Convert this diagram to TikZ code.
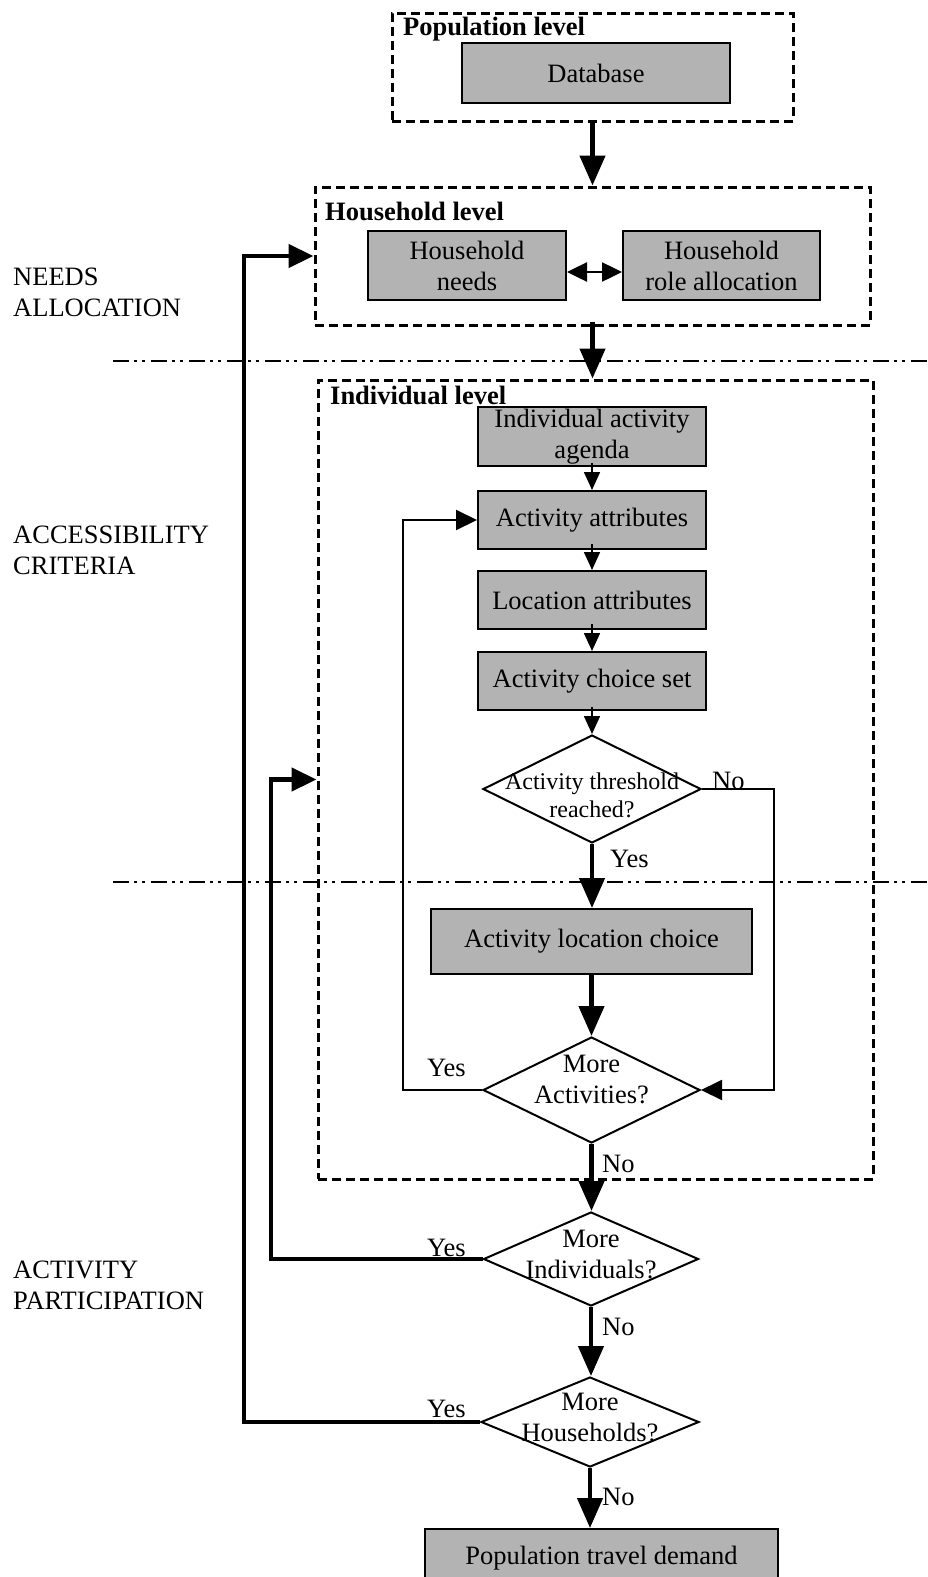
\documentclass[tikz,border=0pt]{standalone}
\usepackage{fontspec}
\setmainfont{Liberation Serif}
\usetikzlibrary{arrows.meta,shapes.geometric}
\definecolor{boxgray}{RGB}{179,179,179}
\begin{document}
\begin{tikzpicture}[x=1pt,y=-1pt,
  font=\fontsize{26.5}{31}\selectfont,
  procbox/.style={draw, line width=2pt, fill=boxgray, inner sep=0pt, align=center},
  levelbox/.style={draw, line width=3pt, dash pattern=on 9pt off 5pt, inner sep=0pt},
  decision/.style={diamond, draw, line width=2pt, inner sep=0pt},
  diamondtext/.style={align=center, inner sep=0pt},
  levelname/.style={font=\fontsize{26.5}{31}\selectfont\bfseries, anchor=base west, inner sep=0pt},
  answer/.style={anchor=base west, inner sep=0pt},
  sidenote/.style={anchor=west, align=left, inner sep=0pt},
  mainflow/.style={line width=4.5pt, -{Triangle[length=30pt,width=25pt]}},
  subflow/.style={line width=1.6pt, -{Triangle[length=18pt,width=16pt]}},
  loopthick/.style={line width=4.5pt, -{Triangle[length=25pt,width=23pt]}},
  loopthin/.style={line width=2pt, -{Triangle[length=21pt,width=20pt]}},
  pairflow/.style={line width=2.5pt, {Triangle[length=20pt,width=19pt]}-{Triangle[length=20pt,width=19pt]}},
  phase/.style={line width=2pt, dash pattern=on 16pt off 5pt on 3pt off 5pt on 3pt off 6pt}]

\useasboundingbox (0,0) rectangle (928,1577);

% phase separators
\draw[phase] (113,361) -- (928,361);
\draw[phase] (113,882) -- (928,882);

% phase names
\node[sidenote] (needs) at (13,292.75) {NEEDS\\ALLOCATION};
\node[sidenote] (access) at (13,550) {ACCESSIBILITY\\CRITERIA};
\node[sidenote] (partic) at (13,1285) {ACTIVITY\\PARTICIPATION};

% population level
\node[levelbox, minimum width=401pt, minimum height=108pt] (pop) at (592.5,67) {};
\node[levelname] (poptitle) at (403,35) {Population level};
\node[procbox, minimum width=268pt, minimum height=60pt] (db) at (596,73) {Database};

% household level
\node[levelbox, minimum width=555pt, minimum height=138pt] (hh) at (592.5,256) {};
\node[levelname] (hhtitle) at (325,220) {Household level};
\node[procbox, minimum width=198pt, minimum height=69pt] (hneeds) at (467,265.5) {Household\\needs};
\node[procbox, minimum width=197pt, minimum height=69pt] (hrole) at (721.5,265.5) {Household\\role allocation};

% individual level
\node[levelbox, minimum width=555pt, minimum height=799pt] (ind) at (595.5,779.5) {};
\node[levelname] (indtitle) at (330,404) {Individual level};
\node[procbox, minimum width=228pt, minimum height=59pt] (agenda) at (592,436.5) {Individual activity\\agenda};
\node[procbox, minimum width=228pt, minimum height=58pt] (attr) at (592,520) {Activity attributes};
\node[procbox, minimum width=228pt, minimum height=58pt] (loc) at (592,600) {Location attributes};
\node[procbox, minimum width=228pt, minimum height=58pt] (cset) at (592,681) {Activity choice set};
\node[decision, minimum width=218pt, minimum height=108pt,
      label={[diamondtext, font=\fontsize{24}{28}\selectfont, yshift=-6pt]center:Activity threshold\\reached?}] (thr) at (592,789) {};
\node[procbox, minimum width=321pt, minimum height=65pt] (lchoice) at (591.5,941.5) {Activity location choice};
\node[decision, minimum width=217pt, minimum height=106pt,
      label={[diamondtext, yshift=10.75pt]center:More\\Activities?}] (moreact) at (591.5,1090) {};

% household and population loops
\node[decision, minimum width=215pt, minimum height=94pt,
      label={[diamondtext, yshift=5pt]center:More\\Individuals?}] (moreind) at (591,1259) {};
\node[decision, minimum width=218pt, minimum height=90pt,
      label={[diamondtext, yshift=4.75pt]center:More\\Households?}] (morehh) at (590,1422) {};
\node[procbox, minimum width=353pt, minimum height=58pt] (demand) at (601.5,1558) {Population travel demand};

% main flow
\draw[mainflow] (pop.south) -- (pop.south |- hh.north);
\draw[mainflow] ([yshift=5pt]hh.south) -- (hh.south |- ind.north);
\draw[pairflow] ([yshift=-6.5pt]hneeds.east) -- ([yshift=-6.5pt]hrole.west);
\draw[subflow] ([yshift=4pt]agenda.south) -- (attr.north);
\draw[subflow] ([yshift=6pt]attr.south) -- (loc.north);
\draw[subflow] ([yshift=6pt]loc.south) -- (cset.north);
\draw[subflow] ([yshift=4pt]cset.south) -- (thr.north);
\draw[mainflow] (thr.south) -- (thr.south |- lchoice.north);
\draw[mainflow] (lchoice.south) -- (lchoice.south |- moreact.north);
\draw[mainflow] (moreact.south) -- (moreact.south |- moreind.north);
\draw[mainflow] (moreind.south) -- (moreind.south |- morehh.north);
\draw[mainflow] (morehh.south) -- (morehh.south |- demand.north);

% feedback loops
\coordinate (hhloop) at (244,0);
\coordinate (indloop) at (271,0);
\coordinate (actloop) at (403,0);
\coordinate (noloop) at (774,0);
\draw[loopthick] (morehh.west) -- (morehh.west -| hhloop) -- (hhloop |- hh.west) -- (hh.west);
\draw[loopthick] (moreind.west) -- (moreind.west -| indloop) -- (indloop |- ind.west) -- (ind.west);
\draw[loopthin] (moreact.west) -- (moreact.west -| actloop) -- (actloop |- attr.west) -- (attr.west);
\draw[loopthin] (thr.east) -- (thr.east -| noloop) -- (noloop |- moreact.east) -- (moreact.east);

% answers
\node[answer] (yes1) at (610,867) {Yes};
\node[answer] (no1) at (712,789) {No};
\node[answer] (yes2) at (427,1076) {Yes};
\node[answer] (no2) at (602,1172) {No};
\node[answer] (yes3) at (427,1256) {Yes};
\node[answer] (no3) at (602,1335) {No};
\node[answer] (yes4) at (427,1417) {Yes};
\node[answer] (no4) at (602,1505) {No};
\end{tikzpicture}
\end{document}
